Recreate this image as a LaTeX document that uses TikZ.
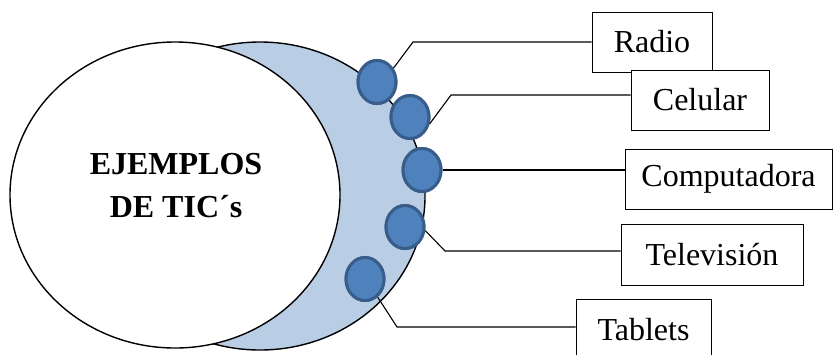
\documentclass[tikz,border=0pt]{standalone}
\usepackage{fontspec}
\setmainfont{Liberation Serif}
\usetikzlibrary{shapes.geometric}
\definecolor{crescent}{HTML}{B9CDE5}
\definecolor{dotfill}{HTML}{4F81BD}
\definecolor{dotline}{HTML}{385D8A}
\tikzset{
  bigell/.style={draw=black, line width=1.4pt},
  dot/.style={ellipse, draw=dotline, fill=dotfill, line width=3pt, minimum width=38pt, minimum height=43pt, inner sep=0pt},
  itembox/.style={draw=black, line width=1pt, fill=white, inner sep=0pt, font=\fontsize{32}{38}\selectfont},
  conn/.style={draw=black, line width=1.1pt}
}
\begin{document}
\begin{tikzpicture}[x=1pt,y=-1pt]
\useasboundingbox (0,0) rectangle (834,354);
\clip (0,0) rectangle (834,354);
\fill[white] (0,0) rectangle (834,354);
% crescent
\draw[bigell, fill=crescent] (260,196) ellipse [x radius=165, y radius=154];
\draw[bigell, fill=white] (175,195) ellipse [x radius=165, y radius=153];
\node[font=\bfseries\fontsize{32}{43}\selectfont, align=center] (title) at (176,186) {EJEMPLOS\\DE TIC´s};
% boxes
\node[itembox, minimum width=120pt, minimum height=60pt] (radio) at (652,42) {Radio};
\node[itembox, minimum width=138pt, minimum height=60pt] (celular) at (700,100) {Celular};
\node[itembox, minimum width=207pt, minimum height=60pt] (comp) at (728.5,179) {Computadora};
\node[itembox, minimum width=182pt, minimum height=61pt] (tele) at (712,254.5) {Televisión};
\node[itembox, minimum width=135pt, minimum height=62pt] (tab) at (643.5,330) {Tablets};
% dots
\node[dot] (c1) at (377,82) {};
\node[dot] (c2) at (410,117) {};
\node[dot] (c3) at (422,170) {};
\node[dot] (c4) at (405,227) {};
\node[dot] (c5) at (365,279) {};
% corners
\coordinate (k1) at (413,42);
\coordinate (k2) at (451,95);
\coordinate (k4) at (445,251);
\coordinate (k5) at (397,327);
% connectors
\begin{scope}[on background layer/.try]
\end{scope}
\draw[conn] (c1.40) -- (k1) -- (radio.west);
\draw[conn] (c2.-20) -- (k2) -- (k2 -| celular.west);
\draw[conn] (c3.east) -- (c3.east -| comp.west);
\draw[conn] (c4.-10) -- (k4) -- (k4 -| tele.west);
\draw[conn] (c5.-55) -- (k5) -- (k5 -| tab.west);
% redraw dots on top of connector starts
\node[dot] at (c1) {};
\node[dot] at (c2) {};
\node[dot] at (c3) {};
\node[dot] at (c4) {};
\node[dot] at (c5) {};
\end{tikzpicture}
\end{document}
